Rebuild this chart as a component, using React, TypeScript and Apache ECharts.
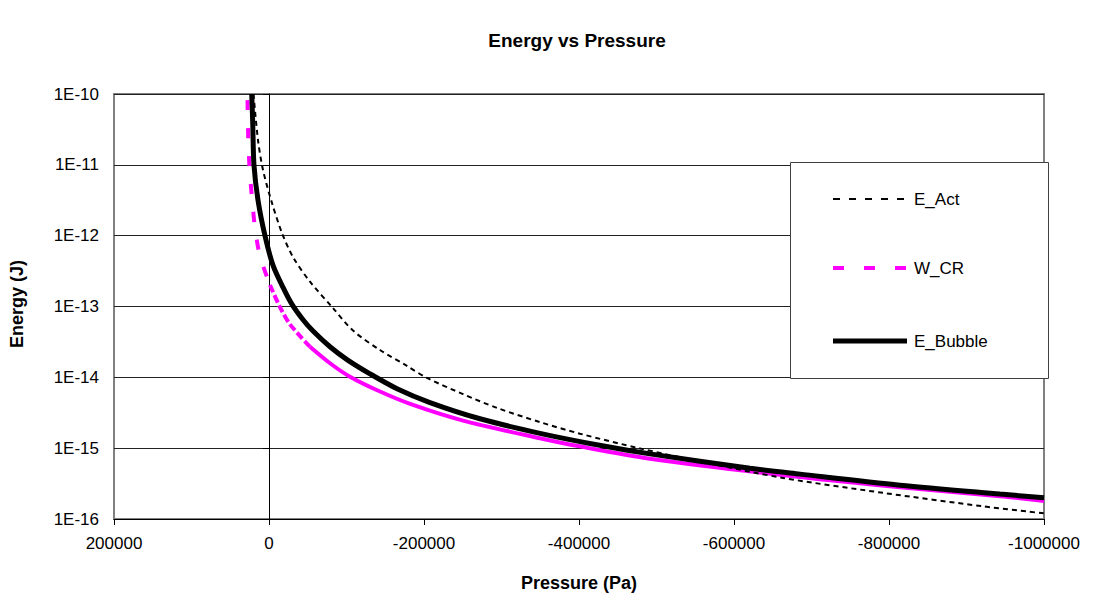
import React, { useEffect, useRef } from "react";
import * as echarts from "echarts";

// Pressure (Pa) and energy (J) values
const actP = [20000, 14194, 7742, -3871, -16774, -30968, -52903, -82581, -108387, -143226, -178065, -203871, -250323, -294194, -349677, -401290, -478710, -556129, -663226, -792258, -921290, -1000000];
const actE = [1.0e-10, 2.24e-11, 8.45e-12, 2.89e-12, 1.09e-12, 5.0e-13, 2.24e-13, 9.5e-14, 4.57e-14, 2.43e-14, 1.45e-14, 9.8e-15, 5.8e-15, 3.7e-15, 2.33e-15, 1.6e-15, 9.9e-16, 6.5e-16, 3.8e-16, 2.34e-16, 1.51e-16, 1.2e-16];

const wcrP = [27742, 26710, 24774, 21290, 18065, 11613, -1290, -14194, -27097, -52903, -78710, -104516, -143226, -185806, -250323, -349677, -398710, -491613, -685161, -814194, -943226, -1000000];
const wcrE = [8.2e-11, 2.24e-11, 7.9e-12, 2.89e-12, 1.28e-12, 5.16e-13, 2.01e-13, 9.8e-14, 5.6e-14, 2.7e-14, 1.58e-14, 1.02e-14, 6.3e-15, 4.07e-15, 2.45e-15, 1.38e-15, 1.07e-15, 7.1e-16, 3.9e-16, 2.8e-16, 2.1e-16, 1.8e-16];
// indices where the W_CR dash pattern visually tightens and then merges into a continuous line
const wcrSplitA = 6;
const wcrSplitB = 9;

const bubP = [22300, 21000, 19400, 14200, 5200, -5200, -18100, -29700, -43900, -56800, -78700, -100600, -130300, -165200, -207700, -272300, -349700, -430000, -491600, -620600, -685200, -814200, -943200, -1000000];
const bubE = [1.0e-10, 3.9e-11, 1.0e-11, 3.18e-12, 1.0e-12, 3.8e-13, 1.86e-13, 1.07e-13, 6.5e-14, 4.5e-14, 2.7e-14, 1.78e-14, 1.12e-14, 6.9e-15, 4.4e-15, 2.6e-15, 1.62e-15, 1.08e-15, 8.3e-16, 5.2e-16, 4.3e-16, 3.0e-16, 2.25e-16, 2.0e-16];

const seriesNames = ["E_Act", "W_CR", "E_Bubble"];
const xMin = -1000000;
const xMax = 200000;
const xStep = 200000;
const yMin = 1e-16;
const yMax = 1e-10;

const zip = (xs: number[], ys: number[]) => xs.map((x, i) => [x, ys[i]]);

const FONT = "'Liberation Sans', Arial, sans-serif";

export default function App() {
  const ref = useRef<HTMLDivElement>(null);
  useEffect(() => {
    if (!ref.current) return;
    const chart = echarts.init(ref.current, undefined, { renderer: "svg" });
    const wcrAll = zip(wcrP, wcrE);

    // hand-built legend box (Excel style)
    const legX = 790;
    const legY = 162;
    const legW = 258;
    const legH = 216;
    const rowY = [199, 268, 341];
    const sampleX1 = 833;
    const sampleX2 = 907;
    const sampleStyles = [
      { stroke: "#000", lineWidth: 2, lineDash: [7, 9] },
      { stroke: "#ff00ff", lineWidth: 4, lineDash: [11, 20] },
      { stroke: "#000", lineWidth: 5 },
    ];
    const legendEls: any[] = [
      {
        type: "rect",
        z: 100,
        shape: { x: legX + 0.5, y: legY + 0.5, width: legW, height: legH },
        style: { fill: "#fff", stroke: "#404040", lineWidth: 1 },
      },
    ];
    seriesNames.forEach((name, i) => {
      legendEls.push({
        type: "line",
        z: 101,
        shape: { x1: sampleX1, y1: rowY[i], x2: sampleX2, y2: rowY[i] },
        style: sampleStyles[i],
      });
      legendEls.push({
        type: "text",
        z: 101,
        x: 914,
        y: rowY[i],
        style: { text: name, font: `17px ${FONT}`, fill: "#000", textAlign: "left", textVerticalAlign: "middle" },
      });
    });

    chart.setOption({
      animation: false,
      backgroundColor: "#ffffff",
      textStyle: { fontFamily: FONT },
      grid: {
        left: 114,
        right: 50,
        top: 94,
        bottom: 84,
        show: true,
        borderColor: "#808080",
        borderWidth: 2,
        backgroundColor: "#ffffff",
      },
      graphic: [
        {
          type: "text",
          x: 577,
          y: 40,
          style: { text: "Energy vs Pressure", font: `bold 19px ${FONT}`, fill: "#000", textAlign: "center", textVerticalAlign: "middle" },
        },
        {
          type: "text",
          x: 579,
          y: 583,
          style: { text: "Pressure (Pa)", font: `bold 18px ${FONT}`, fill: "#000", textAlign: "center", textVerticalAlign: "middle" },
        },
        {
          type: "text",
          x: 17,
          y: 304,
          rotation: Math.PI / 2,
          style: { text: "Energy (J)", font: `bold 18px ${FONT}`, fill: "#000", textAlign: "center", textVerticalAlign: "middle" },
        },
        ...legendEls,
      ],
      xAxis: {
        type: "value",
        inverse: true,
        min: xMin,
        max: xMax,
        interval: xStep,
        axisLine: { show: true, onZero: false, lineStyle: { color: "#000", width: 1 } },
        axisTick: { show: true, length: 6, lineStyle: { color: "#000" } },
        axisLabel: { color: "#000", fontSize: 17, margin: 16, fontFamily: FONT, formatter: (v: number) => String(v) },
        splitLine: { show: false },
      },
      yAxis: {
        type: "log",
        logBase: 10,
        min: yMin,
        max: yMax,
        axisLine: { show: true, lineStyle: { color: "#000", width: 1 } },
        axisTick: { show: true, length: 6, lineStyle: { color: "#000" } },
        minorTick: { show: false },
        axisLabel: {
          color: "#000",
          fontSize: 17,
          margin: 15,
          fontFamily: FONT,
          formatter: (v: number) => "1E" + Math.round(Math.log10(v)),
        },
        splitLine: { show: true, lineStyle: { color: "#222", width: 1 } },
      },
      series: [
        {
          name: "E_Act",
          type: "line",
          data: zip(actP, actE),
          smooth: 0.3,
          showSymbol: false,
          symbol: "none",
          lineStyle: { color: "#000", width: 2, type: [5, 4] },
          z: 3,
        },
        {
          name: "W_CR",
          type: "line",
          data: wcrAll.slice(0, wcrSplitA + 1),
          smooth: 0.3,
          showSymbol: false,
          symbol: "none",
          lineStyle: { color: "#ff00ff", width: 4, type: [10, 18] },
          z: 2,
        },
        {
          name: "W_CR_mid",
          type: "line",
          data: wcrAll.slice(wcrSplitA, wcrSplitB + 1),
          smooth: 0.3,
          showSymbol: false,
          symbol: "none",
          lineStyle: { color: "#ff00ff", width: 4, type: [8, 3] },
          z: 2,
        },
        {
          name: "W_CR_tail",
          type: "line",
          data: wcrAll.slice(wcrSplitB),
          smooth: 0.3,
          showSymbol: false,
          symbol: "none",
          lineStyle: { color: "#ff00ff", width: 4 },
          z: 2,
        },
        {
          name: "E_Bubble",
          type: "line",
          data: zip(bubP, bubE),
          smooth: 0.3,
          showSymbol: false,
          symbol: "none",
          lineStyle: { color: "#000", width: 5 },
          z: 4,
        },
      ],
    });
    return () => chart.dispose();
  }, []);
  return <div ref={ref} style={{ width: 1094, height: 603, margin: -8 }} />;
}
